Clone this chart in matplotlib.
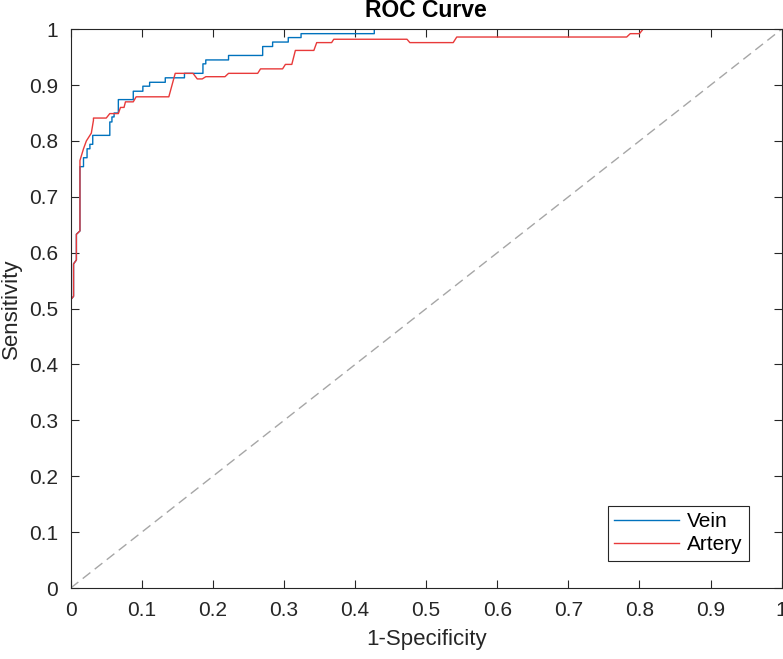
import matplotlib.pyplot as plt

plt.rcParams['font.family'] = ['Liberation Sans', 'DejaVu Sans']

# ROC vertices (1-specificity, sensitivity)
vein_fpr = [0, 0, 0.004, 0.004, 0.008, 0.008, 0.013, 0.013, 0.018, 0.018,
            0.023, 0.023, 0.027, 0.027, 0.031, 0.031, 0.055, 0.055, 0.058, 0.058,
            0.061, 0.061, 0.067, 0.067, 0.088, 0.088, 0.1015, 0.1015, 0.111, 0.111,
            0.133, 0.133, 0.160, 0.160, 0.186, 0.186, 0.190, 0.190, 0.222, 0.222,
            0.270, 0.270, 0.284, 0.284, 0.306, 0.306, 0.324, 0.324, 0.427, 0.427, 1.0]
vein_tpr = [0, 0.516, 0.522, 0.580, 0.587, 0.633, 0.639, 0.754, 0.754, 0.770,
            0.770, 0.786, 0.786, 0.794, 0.794, 0.810, 0.810, 0.834, 0.834, 0.843,
            0.843, 0.850, 0.850, 0.874, 0.874, 0.889, 0.889, 0.898, 0.898, 0.905,
            0.905, 0.913, 0.913, 0.921, 0.921, 0.938, 0.938, 0.945, 0.945, 0.953,
            0.953, 0.969, 0.969, 0.977, 0.977, 0.985, 0.985, 0.992, 0.992, 1.0, 1.0]

artery_fpr = [0, 0, 0.004, 0.004, 0.008, 0.008, 0.013, 0.013, 0.018, 0.022,
              0.029, 0.032, 0.032, 0.050, 0.055, 0.067, 0.070, 0.075, 0.077, 0.088,
              0.092, 0.138, 0.147, 0.172, 0.178, 0.185, 0.190, 0.217, 0.222, 0.263,
              0.267, 0.298, 0.302, 0.311, 0.316, 0.342, 0.346, 0.367, 0.370, 0.473,
              0.477, 0.538, 0.543, 0.782, 0.787, 0.800, 0.805, 1.0]
artery_tpr = [0, 0.516, 0.522, 0.580, 0.587, 0.633, 0.639, 0.765, 0.786, 0.800,
              0.814, 0.837, 0.841, 0.841, 0.849, 0.849, 0.860, 0.860, 0.870, 0.870,
              0.879, 0.879, 0.921, 0.921, 0.911, 0.911, 0.915, 0.915, 0.921, 0.921,
              0.929, 0.929, 0.937, 0.937, 0.962, 0.962, 0.976, 0.976, 0.982, 0.982,
              0.976, 0.976, 0.986, 0.986, 0.992, 0.992, 1.0, 1.0]

chance = [0, 1]
tick_labels = ['0', '0.1', '0.2', '0.3', '0.4', '0.5', '0.6', '0.7', '0.8', '0.9', '1']

fig = plt.figure(figsize=(7.83, 6.59), dpi=100)
ax = fig.add_axes([0.0903, 0.1077, 0.908, 0.848])

ax.plot(chance, chance, color='#a6a6a6', linewidth=1.0, dashes=(7, 4))
ax.plot(vein_fpr, vein_tpr, color='#0072BD', linewidth=1.0, label='Vein')
ax.plot(artery_fpr, artery_tpr, color='#e83a3a', linewidth=1.0, label='Artery')

ax.set_xlim(0, 1)
ax.set_ylim(0, 1)
ax.set_xticks([i / 10 for i in range(11)])
ax.set_yticks([i / 10 for i in range(11)])
ax.set_xticklabels(tick_labels)
ax.set_yticklabels(tick_labels)
ax.tick_params(direction='in', length=6, width=0.8, top=True, right=True,
               labelsize=15, colors='#262626', pad=9)
for s in ax.spines.values():
    s.set_color('#262626')
    s.set_linewidth(0.8)

ax.set_xlabel('1-Specificity', fontsize=16, color='#262626', labelpad=7)
ax.set_ylabel('Sensitivity', fontsize=16, color='#262626', labelpad=5)
ax.set_title('ROC Curve', fontsize=16.5, fontweight='bold', pad=9)

leg = ax.legend(loc='lower right', bbox_to_anchor=(0.954, 0.049), borderaxespad=0,
                fontsize=15, handlelength=3.1, fancybox=False, framealpha=1,
                edgecolor='#262626', borderpad=0.3, labelspacing=0.2, handletextpad=0.4)
leg.get_frame().set_linewidth(0.8)

fig.savefig('out.png', dpi=100)
